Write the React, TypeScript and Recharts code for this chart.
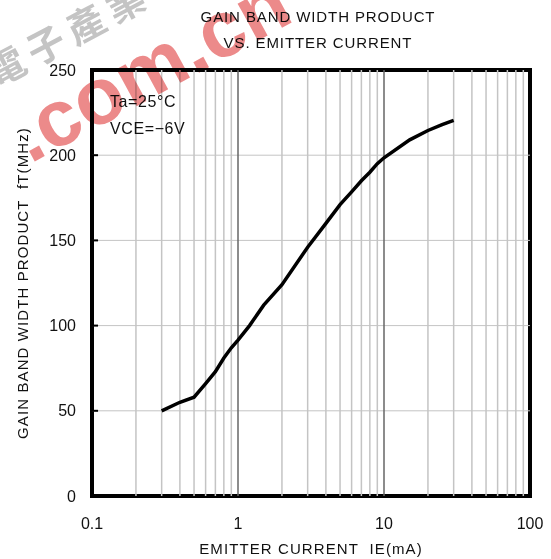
import { LineChart, Line, XAxis, YAxis, ReferenceLine, ReferenceArea } from 'recharts';

const currentMa = [0.3, 0.4, 0.5, 0.6, 0.7, 0.8, 0.9, 1, 1.2, 1.5, 2, 3, 4, 5, 6, 7, 8, 9, 10, 15, 20, 25, 30];
const gainMhz = [50, 55, 58, 66, 73, 81, 87, 91.5, 100, 112, 124, 146, 160, 171, 178.5, 185, 190, 195, 198.5, 209, 214.5, 218, 220.5];

const xTicks = [0.1, 1, 10, 100];
const yTicks = [0, 50, 100, 150, 200, 250];
const minorX = [0.2, 0.3, 0.4, 0.5, 0.6, 0.7, 0.8, 0.9, 2, 3, 4, 5, 6, 7, 8, 9, 20, 30, 40, 50, 60, 70, 80, 90];
const majorX = [1, 10];
const gridY = [50, 100, 150, 200];

const data = currentMa.map((x, i) => ({ x, y: gainMhz[i] }));

const FONT = '"Liberation Sans", Arial, sans-serif';
const W = 551;
const H = 559;

export default function App() {
  return (
    <div style={{ position: 'absolute', left: 0, top: 0, width: W, height: H, background: '#fff', fontFamily: FONT }}>
      <div style={{ position: 'absolute', left: 0, top: 0 }}>
        <LineChart width={W} height={H} data={data} margin={{ top: 70, right: 21, bottom: 0, left: 0 }}>
          <XAxis
            dataKey="x"
            type="number"
            scale="log"
            domain={[0.1, 100]}
            ticks={xTicks}
            allowDataOverflow
            height={63}
            axisLine={false}
            tickLine={false}
            tickMargin={16}
            tickFormatter={(v: number) => String(v)}
            tick={{ fontSize: 16, fill: '#111', fontFamily: FONT }}
            label={{ value: 'EMITTER CURRENT\u00a0 IE(mA)', position: 'insideBottom', offset: 5, fontSize: 15, fill: '#111', fontFamily: FONT, style: { letterSpacing: '1.1px' } }}
          />
          <YAxis
            type="number"
            domain={[0, 250]}
            ticks={yTicks}
            axisLine={false}
            tickLine={false}
            tickMargin={10}
            width={92}
            tick={{ fontSize: 16, fill: '#111', fontFamily: FONT }}
          />
          {minorX.map((v) => (
            <ReferenceLine key={`mx${v}`} x={v} stroke="#c4c4c4" strokeWidth={1.5} />
          ))}
          {gridY.map((v) => (
            <ReferenceLine key={`gy${v}`} y={v} stroke="#c4c4c4" strokeWidth={1} />
          ))}
          {majorX.map((v) => (
            <ReferenceLine key={`Mx${v}`} x={v} stroke="#666" strokeWidth={1.5} />
          ))}
          {gridY.map((v) => (
            <ReferenceLine key={`tk${v}`} segment={[{ x: 0.1, y: v }, { x: 0.11, y: v }]} stroke="#000" strokeWidth={2} />
          ))}
          <ReferenceArea x1={0.1} x2={100} y1={0} y2={250} fill="none" stroke="#000" strokeWidth={4} />
          <Line dataKey="y" type="linear" stroke="#000" strokeWidth={3.5} dot={false} isAnimationActive={false} />
        </LineChart>
      </div>
      <svg width={60} height={H} style={{ position: 'absolute', left: 0, top: 0 }}>
        <text
          x={22}
          y={283}
          transform="rotate(-90 22 283)"
          textAnchor="middle"
          dominantBaseline="central"
          fontSize={15}
          fill="#111"
          fontFamily={FONT}
          style={{ letterSpacing: '1.1px' }}
        >
          {'GAIN BAND WIDTH PRODUCT\u00a0 fT(MHz)'}
        </text>
      </svg>
      <div style={{ position: 'absolute', left: 98, top: 4, width: 440, textAlign: 'center', fontSize: 15, letterSpacing: '0.9px', color: '#111', lineHeight: '26px' }}>
        GAIN BAND WIDTH PRODUCT
        <br />
        VS. EMITTER CURRENT
      </div>
      <div style={{ position: 'absolute', left: 110, top: 88, fontSize: 16, letterSpacing: '0.6px', color: '#111', lineHeight: '27px' }}>
        Ta=25°C
        <br />
        VCE=−6V
      </div>
      <svg width={W} height={H} style={{ position: 'absolute', left: 0, top: 0, mixBlendMode: 'multiply', pointerEvents: 'none' }}>
        <g transform="translate(-4 88) rotate(-28)">
          <text x={0} y={0} fontSize={38} fontWeight="bold" fill="#c4c4c4" fontFamily='"Noto Sans CJK TC", sans-serif' style={{ letterSpacing: '7px' }}>電子產業</text>
        </g>
        <g transform="translate(30 164) rotate(-28.4)">
          <text x={0} y={0} fontSize={80} fontWeight="bold" fill="#ec8a8a" fontFamily={FONT}>.com.cn</text>
        </g>
      </svg>
    </div>
  );
}
